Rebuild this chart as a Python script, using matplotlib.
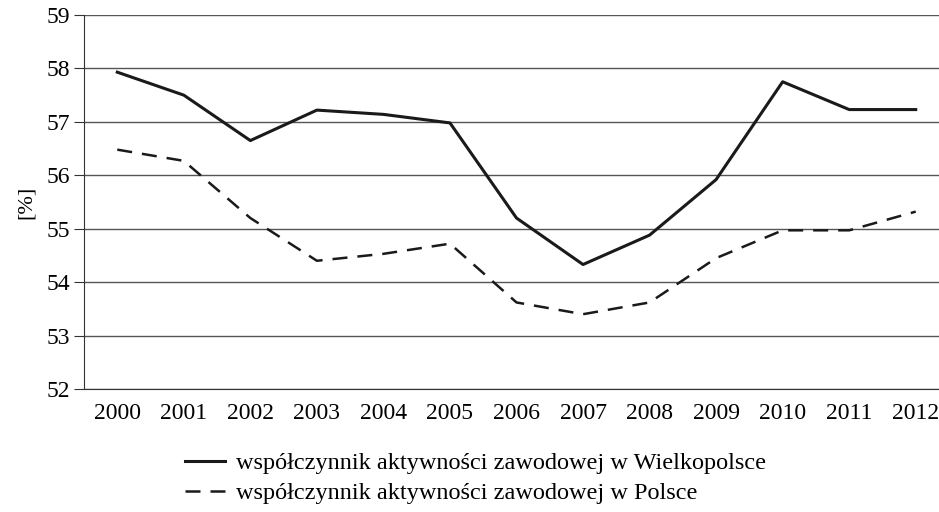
import matplotlib
matplotlib.use("Agg")
import matplotlib.pyplot as plt

years = ["2000", "2001", "2002", "2003", "2004", "2005", "2006",
         "2007", "2008", "2009", "2010", "2011", "2012"]
wielkopolska = [57.93, 57.50, 56.65, 57.22, 57.14, 56.98, 55.20,
                54.33, 54.88, 55.92, 57.75, 57.23, 57.23]
polska = [56.48, 56.27, 55.20, 54.40, 54.53, 54.72, 53.62,
          53.40, 53.62, 54.45, 54.97, 54.97, 55.32]

label_w = "współczynnik aktywności zawodowej w Wielkopolsce"
label_p = "współczynnik aktywności zawodowej w Polsce"

plt.rcParams["font.family"] = ["Liberation Serif", "DejaVu Serif"]

fig = plt.figure(figsize=(9.39, 5.12), dpi=100)
# axes runs a little past the right edge, like in the source
ax = fig.add_axes([84 / 939, 1 - 389 / 512, 865 / 939, 374 / 512])

x = list(range(len(years)))
ax.plot(x, wielkopolska, color="#1a1a1a", lw=2.2, label=label_w)
ax.plot(x, polska, color="#1a1a1a", lw=1.8, dashes=(6, 4), label=label_p)

ax.set_xlim(-0.5, len(years) - 0.5)
ax.set_ylim(52, 59)
ax.set_yticks(range(52, 60))
ax.set_xticks(x)
ax.set_xticklabels(years)
ax.grid(axis="y", color="#555555", lw=1.0)
ax.set_axisbelow(True)

for s in ["top", "right"]:
    ax.spines[s].set_visible(False)
ax.spines["left"].set_color("#333333")
ax.spines["bottom"].set_color("#333333")
ax.tick_params(axis="y", direction="out", length=7, color="#333333",
               labelsize=17, pad=3)
ax.tick_params(axis="x", length=0, labelsize=17, pad=10)
ax.set_ylabel("[%]", fontsize=16, labelpad=8)

fig.legend(loc="upper left", bbox_to_anchor=(185 / 939, 1 - 452 / 512),
           frameon=False, fontsize=17.5, handlelength=1.65, labelspacing=0.33,
           handletextpad=0.45, borderaxespad=0, borderpad=0)

fig.savefig("out.png", dpi=100)
